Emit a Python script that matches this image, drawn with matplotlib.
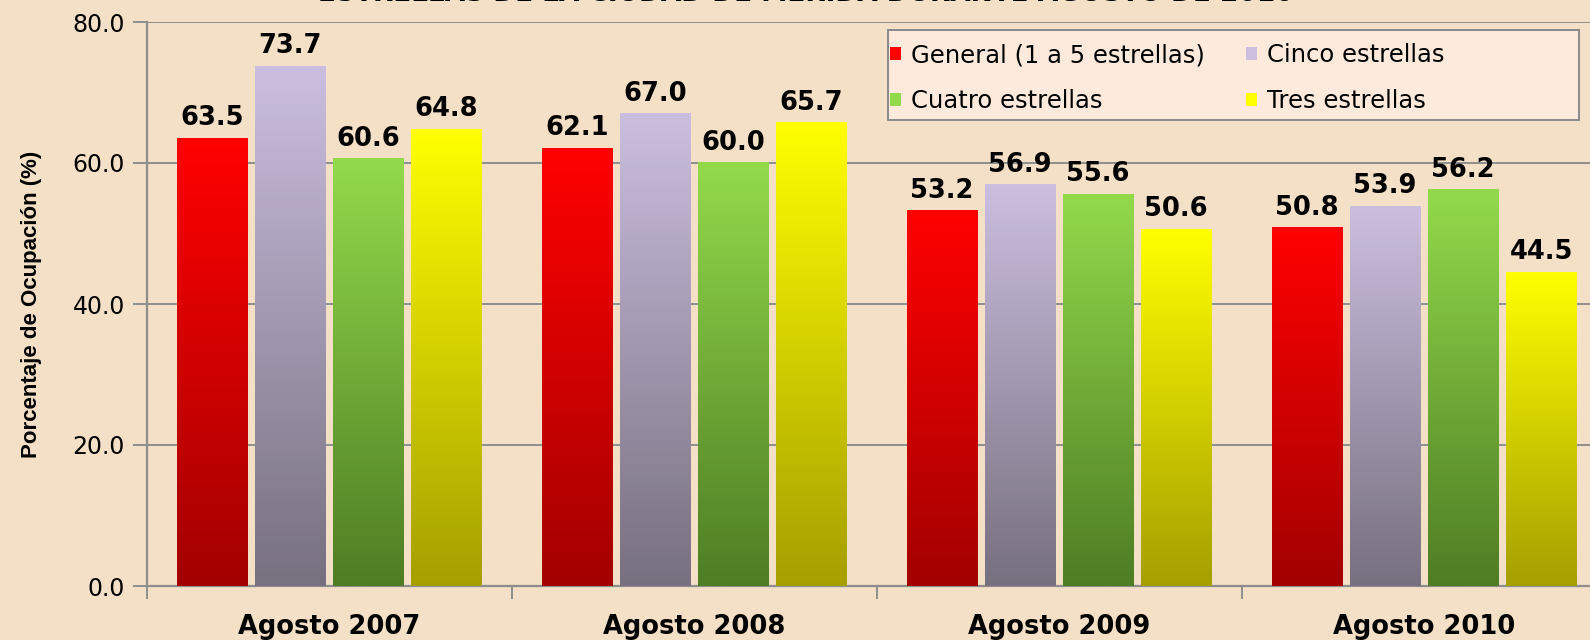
import numpy as np
import matplotlib
matplotlib.use("Agg")
import matplotlib.pyplot as plt
from matplotlib.colors import LinearSegmentedColormap
from matplotlib.patches import Patch, Rectangle

categories = ["Agosto 2007", "Agosto 2008", "Agosto 2009", "Agosto 2010"]
series = ["General (1 a 5 estrellas)", "Cinco estrellas", "Cuatro estrellas", "Tres estrellas"]
general = [63.5, 62.1, 53.2, 50.8]
cinco = [73.7, 67.0, 56.9, 53.9]
cuatro = [60.6, 60.0, 55.6, 56.2]
tres = [64.8, 65.7, 50.6, 44.5]
yticks = [0, 20, 40, 60, 80]
title = "ESTRELLAS DE LA CIUDAD DE MÉRIDA DURANTE AGOSTO DE 2010"

# (top colour, bottom colour) for each series gradient
grads = [("#ff0000", "#a20000"),
         ("#cbbedf", "#77707f"),
         ("#93da4b", "#4e7d24"),
         ("#ffff00", "#a59f00")]

bg = "#f3e0c6"
grid_c = "#8e8e8e"

fig = plt.figure(figsize=(15.9, 6.4), dpi=100, facecolor=bg)
ax = fig.add_axes([147 / 1590, 54 / 640, 1460 / 1590, 564 / 640])
ax.set_facecolor("none")

values = [general, cinco, cuatro, tres]
x = np.arange(len(categories))
width = 0.194
offsets = [-0.322, -0.108, 0.106, 0.320]

for k, vals in enumerate(values):
    cmap = LinearSegmentedColormap.from_list("g%d" % k, [grads[k][1], grads[k][0]])
    bars = ax.bar(x + offsets[k], vals, width, color="none", edgecolor="none", zorder=3)
    for b, v in zip(bars, vals):
        x0 = b.get_x()
        ax.imshow(np.linspace(0, 1, 256).reshape(-1, 1), cmap=cmap, origin="lower",
                  extent=[x0, x0 + width, 0, v], aspect="auto", zorder=3)
        ax.text(x0 + width / 2, v + 1.0, f"{v:.1f}", ha="center", va="bottom",
                fontsize=18.5, fontweight="bold", color="black",
                family=["DejaVu Sans"], zorder=4)

ax.set_xlim(-0.5, len(categories) - 0.5)
ax.set_ylim(0, 80)
ax.set_yticks(yticks)
ax.set_yticklabels([f"{t:.1f}" for t in yticks], fontsize=17, family=["DejaVu Sans"])
ax.yaxis.grid(True, color=grid_c, lw=1.4, zorder=0)
ax.set_axisbelow(True)

ax.set_xticks(x)
ax.set_xticklabels(categories, fontsize=18.5, fontweight="bold", family=["DejaVu Sans"])
ax.set_xticks(np.arange(len(categories) + 1) - 0.5, minor=True)
ax.tick_params(axis="x", which="major", length=0, pad=20)
ax.tick_params(axis="x", which="minor", length=9, width=1.4, color=grid_c, direction="out")
ax.tick_params(axis="y", length=10, width=1.4, color=grid_c, direction="out", pad=6)

for s in ["top", "right"]:
    ax.spines[s].set_visible(False)
for s in ["left", "bottom"]:
    ax.spines[s].set_color(grid_c)
    ax.spines[s].set_linewidth(1.6)

ax.set_ylabel("Porcentaje de Ocupación (%)", fontsize=16, fontweight="bold",
              family=["Liberation Sans", "DejaVu Sans"], labelpad=22)

# legend box drawn separately (Excel-style box wider than its contents)
fig.patches.append(Rectangle((888 / 1590, 1 - 120 / 640), 691 / 1590, 90 / 640,
                             transform=fig.transFigure, facecolor="#fdeadc",
                             edgecolor="#8a8a8a", lw=1.4, zorder=5))

handles = [Patch(facecolor=grads[k][0], edgecolor="none") for k in range(4)]
order = [0, 2, 1, 3]  # matplotlib fills legend column-wise
leg = fig.legend([handles[i] for i in order], [series[i] for i in order],
                 ncol=2, loc="upper left", bbox_to_anchor=(890 / 1590, 1 - 43 / 640),
                 frameon=False, borderpad=0, borderaxespad=0,
                 prop={"family": ["DejaVu Sans"], "size": 17.5},
                 handlelength=0.45, handleheight=0.45, handletextpad=0.4,
                 columnspacing=1.7, labelspacing=0.92)
leg.set_zorder(6)

# title sits mostly above the canvas, as in the cropped original
fig.text(0.507, 1 - 1 / 640, title, ha="center", va="baseline",
         fontsize=19, fontweight="bold", family=["DejaVu Sans"])

fig.savefig("out.png", dpi=100, facecolor=bg)
